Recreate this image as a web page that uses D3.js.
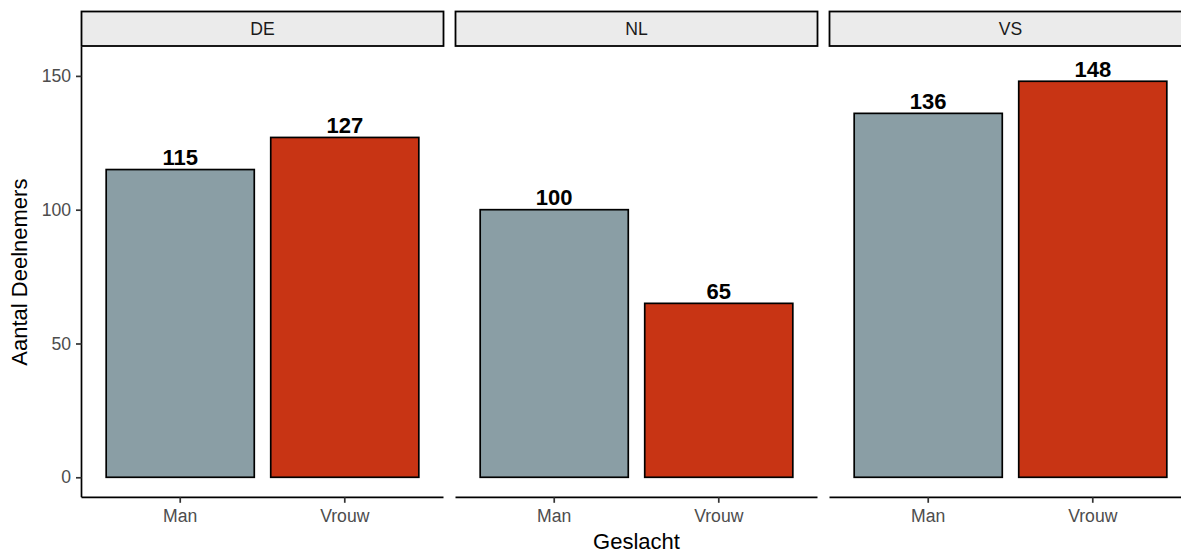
<!DOCTYPE html>
<html>
<head>
<meta charset="utf-8">
<script src="https://cdn.jsdelivr.net/npm/d3@7"></script>
<style>
  html, body { margin: 0; padding: 0; background: #ffffff; }
  svg { display: block; font-family: "Liberation Sans", Arial, sans-serif; }
</style>
</head>
<body>
<svg id="chart" width="1181" height="554"></svg>
<script>
// ---- data ----
const facets = ["DE", "NL", "VS"];
const genders = ["Man", "Vrouw"];
const manValues = [115, 100, 136];
const vrouwValues = [127, 65, 148];
const yTicks = [0, 50, 100, 150];
const genderColors = ["#8A9EA5", "#C83414"];
const xTitle = "Geslacht";
const yTitle = "Aantal Deelnemers";

// ---- layout ----
const W = 1181, H = 554;
const panelTop = 47, panelBottom = 497.3;
const stripTop = 11.5, stripBottom = 46;
const svg = d3.select("#chart");

const facetScale = d3.scaleBand()
  .domain(facets)
  .range([81.5, 1191.5])
  .paddingInner(12 / 374)
  .paddingOuter(0);

const panelW = facetScale.bandwidth();

const xScale = d3.scaleBand()
  .domain(genders)
  .range([0, panelW])
  .paddingInner(0.1)
  .paddingOuter(0.15);

const yScale = d3.scaleLinear()
  .domain([-7.48, 160.8])
  .range([panelBottom, panelTop]);

const rows = facets.map((f, i) => ({
  facet: f,
  values: [manValues[i], vrouwValues[i]]
}));

const panels = svg.selectAll("g.panel")
  .data(rows)
  .enter().append("g")
  .attr("class", "panel")
  .attr("transform", d => `translate(${facetScale(d.facet)},0)`);

// strips
panels.append("rect")
  .attr("x", 0)
  .attr("y", stripTop)
  .attr("width", panelW)
  .attr("height", stripBottom - stripTop)
  .attr("fill", "#EBEBEB")
  .attr("stroke", "#000")
  .attr("stroke-width", 1.8);

panels.append("text")
  .attr("x", panelW / 2)
  .attr("y", (stripTop + stripBottom) / 2)
  .attr("dy", "0.36em")
  .attr("text-anchor", "middle")
  .attr("font-size", "17.6px")
  .attr("fill", "#1A1A1A")
  .text(d => d.facet);

// bars
panels.each(function(d) {
  const g = d3.select(this);
  const bars = genders.map((gname, j) => ({ gender: gname, value: d.values[j], color: genderColors[j] }));
  g.selectAll("rect.bar")
    .data(bars)
    .enter().append("rect")
    .attr("class", "bar")
    .attr("x", b => xScale(b.gender))
    .attr("width", xScale.bandwidth())
    .attr("y", b => yScale(b.value))
    .attr("height", b => yScale(0) - yScale(b.value))
    .attr("fill", b => b.color)
    .attr("stroke", "#000")
    .attr("stroke-width", 1.7);

  g.selectAll("text.lbl")
    .data(bars)
    .enter().append("text")
    .attr("class", "lbl")
    .attr("x", b => xScale(b.gender) + xScale.bandwidth() / 2)
    .attr("y", b => yScale(b.value) - 4.3)
    .attr("text-anchor", "middle")
    .attr("font-size", "22px")
    .attr("font-weight", "bold")
    .attr("fill", "#000")
    .text(b => b.value);

  // x axis
  const xAxis = d3.axisBottom(xScale).tickSize(5.5).tickPadding(4);
  const ax = g.append("g")
    .attr("transform", `translate(0,${panelBottom})`)
    .call(xAxis);
  ax.select(".domain").attr("stroke", "#000").attr("stroke-width", 1.7)
    .attr("d", `M0,0H${panelW}`);
  ax.selectAll(".tick line").attr("stroke", "#333").attr("stroke-width", 1.7);
  ax.selectAll(".tick text")
    .attr("font-size", "17.6px")
    .attr("font-family", "Liberation Sans, Arial, sans-serif")
    .attr("fill", "#4D4D4D")
    .attr("dy", null)
    .attr("y", 24.5);
});

// y axis on first panel
const yAxis = d3.axisLeft(yScale).tickValues(yTicks).tickSize(5.5).tickPadding(5);
const yAx = svg.append("g")
  .attr("transform", `translate(${facetScale(facets[0])},0)`)
  .call(yAxis);
yAx.select(".domain").attr("stroke", "#000").attr("stroke-width", 1.7)
  .attr("d", `M0,${panelTop}V${panelBottom}`);
yAx.selectAll(".tick line").attr("stroke", "#333").attr("stroke-width", 1.7);
yAx.selectAll(".tick text")
  .attr("font-size", "17.6px")
  .attr("font-family", "Liberation Sans, Arial, sans-serif")
  .attr("fill", "#4D4D4D");

// axis titles
const firstX = facetScale(facets[0]);
const lastX = firstX + 3 * panelW + 2 * 12;
svg.append("text")
  .attr("x", (firstX + lastX) / 2)
  .attr("y", 549)
  .attr("text-anchor", "middle")
  .attr("font-size", "22px")
  .attr("fill", "#000")
  .text(xTitle);

svg.append("text")
  .attr("transform", `translate(27,${(panelTop + panelBottom) / 2}) rotate(-90)`)
  .attr("text-anchor", "middle")
  .attr("font-size", "22px")
  .attr("fill", "#000")
  .text(yTitle);
</script>
</body>
</html>
